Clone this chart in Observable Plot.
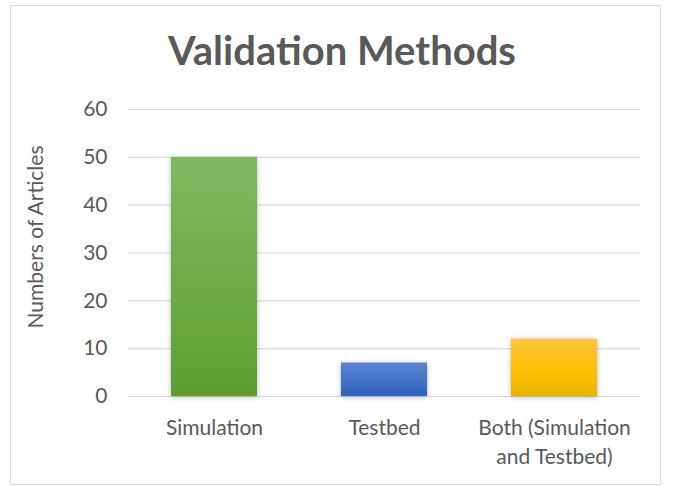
<!DOCTYPE html>
<html>
<head>
<meta charset="utf-8">
<script src="https://cdn.jsdelivr.net/npm/d3@7"></script>
<script src="https://cdn.jsdelivr.net/npm/@observablehq/plot@0.6"></script>
<style>
  body { margin: 0; background: #fff; font-family: Lato, "Open Sans", sans-serif; }
  #wrap { position: relative; width: 673px; height: 487px; }
  #frame { position: absolute; left: 10px; top: 5px; width: 651px; height: 480px; border: 1px solid #d9d9d9; box-sizing: border-box; }
  #title { position: absolute; left: 0; width: 684px; top: 25px; text-align: center; font-weight: bold; font-size: 40px; color: #595959; line-height: 50px; }
  #chart { position: absolute; left: 0; top: 0; }
</style>
</head>
<body>
<div id="wrap">
  <div id="frame"></div>
  <div id="title">Validation Methods</div>
  <div id="chart"></div>
</div>
<script>
const categories = ["Simulation", "Testbed", "Both (Simulation and Testbed)"];
const values = [50, 7, 12];
const colorTop = ["#7fb862", "#5a82cf", "#ffc73f"];
const colorMid = ["#6eab45", "#4472c4", "#ffc000"];
const colorBottom = ["#5e9d32", "#2f62bd", "#e6b700"];
const yTicks = [0, 10, 20, 30, 40, 50, 60];
const yLabel = "Numbers of Articles";

const data = categories.map((c, i) => ({category: c, value: values[i], grad: `url(#grad${i})`}));

const gray = "#595959";
const fs = 21;
const chart = Plot.plot({
  width: 673,
  height: 487,
  marginLeft: 128,
  marginRight: 33,
  marginTop: 109,
  marginBottom: 91,
  style: {fontFamily: "Lato, 'Open Sans', sans-serif", fontSize: fs + "px", color: gray, background: "transparent"},
  x: {domain: categories, paddingInner: 0.496, paddingOuter: 0.25, label: null},
  y: {domain: [0, 60], label: null},
  color: {type: "identity"},
  marks: [
    Plot.gridY(yTicks, {stroke: "#d9d9d9", strokeOpacity: 1, strokeWidth: 1.2}),
    Plot.axisY(yTicks, {tickSize: 0, tickPadding: 21, fill: gray, fontSize: fs, label: null}),
    Plot.axisX({tickSize: 0, tickPadding: 17, fill: gray, fontSize: fs, label: null, lineHeight: 1.42,
      tickFormat: d => d === "Both (Simulation and Testbed)" ? "Both (Simulation\nand Testbed)" : d}),
    Plot.barY(data, {x: "category", y: "value", fill: "grad"}),
    Plot.text([yLabel], {frameAnchor: "left", textAnchor: "middle", dx: -92, dy: -16, rotate: -90, fill: gray, fontSize: fs})
  ]
});

const svg = d3.select(chart);
const defs = svg.insert("defs", ":first-child");
categories.forEach((c, i) => {
  const g = defs.append("linearGradient").attr("id", `grad${i}`).attr("x1", 0).attr("y1", 0).attr("x2", 0).attr("y2", 1);
  g.append("stop").attr("offset", "0%").attr("stop-color", colorTop[i]);
  g.append("stop").attr("offset", "55%").attr("stop-color", colorMid[i]);
  g.append("stop").attr("offset", "100%").attr("stop-color", colorBottom[i]);
});
const f = defs.append("filter").attr("id", "shadow").attr("x", "-20%").attr("y", "-20%").attr("width", "140%").attr("height", "140%");
f.append("feDropShadow").attr("dx", 0).attr("dy", 1).attr("stdDeviation", 2.5).attr("flood-color", "#000").attr("flood-opacity", 0.3);
svg.selectAll("g[aria-label='bar'] rect").attr("filter", "url(#shadow)");

document.getElementById("chart").appendChild(chart);
</script>
</body>
</html>
